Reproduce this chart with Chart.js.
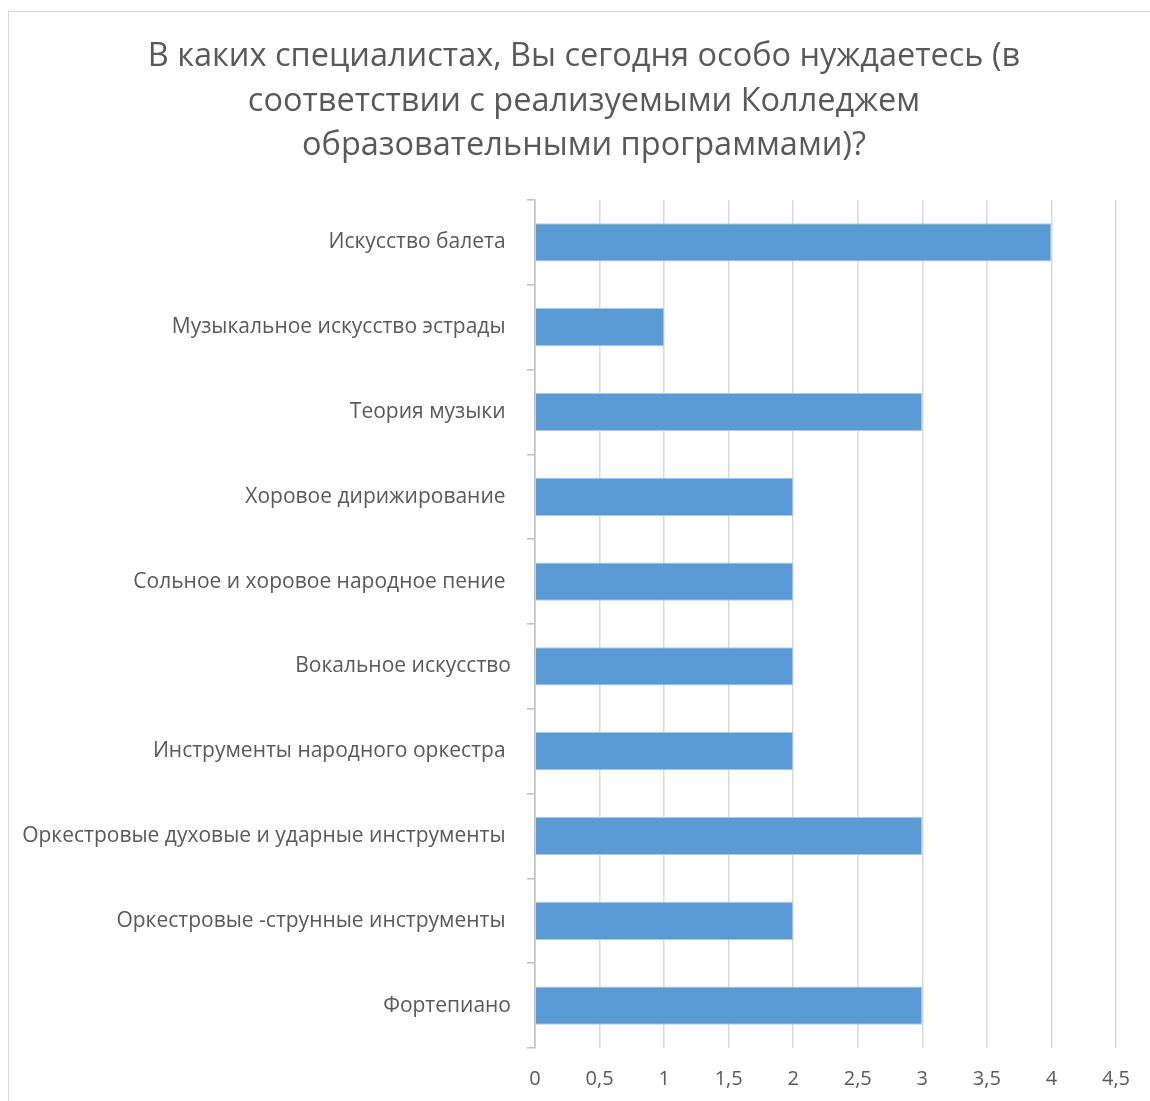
<!DOCTYPE html>
<html>
<head>
<meta charset="utf-8">
<script src="https://cdn.jsdelivr.net/npm/chart.js@4/dist/chart.umd.min.js"></script>
<style>
  body { margin: 0; background: #fff; }
  #wrap { position: relative; width: 1150px; height: 1101px; overflow: hidden; }
  #frame { position: absolute; left: 8px; top: 11px; width: 1160px; height: 1110px; border: 1px solid #d9d9d9; }
  #chart { position: absolute; left: 0; top: 0; }
</style>
</head>
<body>
<div id="wrap">
  <div id="frame"></div>
  <canvas id="chart" width="1150" height="1101"></canvas>
</div>
<script>
// ── Data ──
const titleLines = [
  'В каких специалистах, Вы сегодня особо нуждаетесь (в',
  'соответствии с реализуемыми Колледжем',
  'образовательными программами)?'
];
const categories = [
  'Искусство балета ',
  'Музыкальное искусство эстрады ',
  'Теория музыки ',
  'Хоровое дирижирование ',
  'Сольное и хоровое народное пение ',
  'Вокальное искусство',
  'Инструменты народного оркестра ',
  'Оркестровые духовые и ударные инструменты ',
  'Оркестровые -струнные инструменты ',
  'Фортепиано'
];
const values = [4, 1, 3, 2, 2, 2, 2, 3, 2, 3];
const xTicks = [0, 0.5, 1, 1.5, 2, 2.5, 3, 3.5, 4, 4.5];

const TEXT = '#595959';
const FONT = 'Open Sans';

// ── Title drawn centred on the whole frame, not just the canvas ──
const frameTitle = {
  id: 'frameTitle',
  afterDraw(chart) {
    const ctx = chart.ctx;
    ctx.save();
    ctx.font = `32.5px "${FONT}"`;
    ctx.fillStyle = TEXT;
    ctx.textAlign = 'center';
    ctx.textBaseline = 'middle';
    titleLines.forEach((line, i) => ctx.fillText(line, 584, 57 + i * 44.5));
    ctx.restore();
  }
};

new Chart(document.getElementById('chart'), {
  type: 'bar',
  data: {
    labels: categories,
    datasets: [{
      data: values,
      backgroundColor: '#5b9bd5',
      borderColor: '#a9c9ea',
      borderWidth: 1,
      barPercentage: 0.45,
      categoryPercentage: 1
    }]
  },
  plugins: [frameTitle],
  options: {
    indexAxis: 'y',
    responsive: false,
    animation: false,
    layout: { padding: { left: 0, right: 34, top: 200, bottom: 0 } },
    plugins: {
      legend: { display: false },
      tooltip: { enabled: false },
      title: { display: false }
    },
    scales: {
      x: {
        min: 0,
        max: xTicks[xTicks.length - 1],
        afterBuildTicks: axis => { axis.ticks = xTicks.map(v => ({ value: v })); },
        afterFit: axis => { axis.height = 53; },
        grid: { color: '#d9d9d9', lineWidth: 1.5, drawTicks: false },
        border: { display: false },
        ticks: {
          color: TEXT,
          font: { family: FONT, size: 20 },
          padding: 19,
          maxRotation: 0,
          callback: v => String(v).replace('.', ',')
        }
      },
      y: {
        afterFit: axis => { axis.width = 535; },
        grid: { offset: true, drawOnChartArea: false, drawTicks: true, tickLength: 8, color: '#bfbfbf', lineWidth: 1.5 },
        border: { color: '#bfbfbf', width: 1.5 },
        ticks: {
          color: TEXT,
          font: { family: FONT, size: 21 },
          padding: 16
        }
      }
    }
  }
});
</script>
</body>
</html>
